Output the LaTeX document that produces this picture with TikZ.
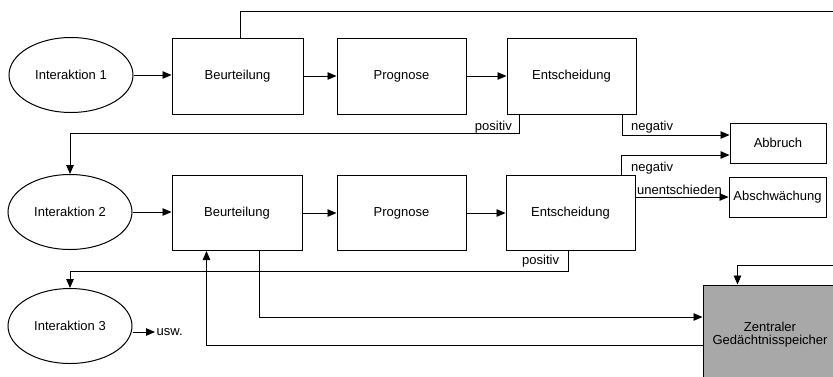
\documentclass[tikz,border=0pt]{standalone}
\usepackage{fontspec}
\setmainfont{Liberation Sans}
\usetikzlibrary{arrows.meta,calc,shapes.geometric}
\definecolor{zgray}{RGB}{168,168,168}
\begin{document}
\begin{tikzpicture}[x=1pt,y=-1pt,
  font=\fontsize{13}{15}\selectfont,
  box/.style={draw, line width=1pt, rectangle, inner sep=0pt, align=center},
  ell/.style={draw, line width=1pt, ellipse, inner sep=0pt, minimum width=124, minimum height=75},
  conn/.style={line width=0.9pt, -{Triangle[length=9pt,width=7.5pt]}},
  plainline/.style={line width=0.9pt},
  lbl/.style={inner sep=0pt}]
\useasboundingbox (0,0) rectangle (833,376);
\clip (0,0) rectangle (833,376);

% row 1
\node[ell] (i1) at (71,75) {Interaktion 1};
\node[box, minimum width=131, minimum height=76] (b1) at (237.5,76) {Beurteilung};
\node[box, minimum width=129, minimum height=76] (p1) at (401.5,76) {Prognose};
\node[box, minimum width=129, minimum height=76] (e1) at (571.5,76) {Entscheidung};

% row 2
\node[ell] (i2) at (70,212) {Interaktion 2};
\node[box, minimum width=130, minimum height=75] (b2) at (237,213) {Beurteilung};
\node[box, minimum width=129, minimum height=75] (p2) at (401.5,213) {Prognose};
\node[box, minimum width=129, minimum height=75] (e2) at (570.5,213) {Entscheidung};

% right boxes
\node[box, minimum width=96, minimum height=40] (ab) at (778,143) {Abbruch};
\node[box, minimum width=97, minimum height=40] (as) at (777.5,197) {Abschwächung};

% row 3
\node[ell] (i3) at (70,326) {Interaktion 3};
\node[inner sep=1.5pt, anchor=west] (usw) at (155,332) {usw.};

% memory
\node[box, fill=zgray, minimum width=134, minimum height=100] (z) at (770,335) {Zentraler\\[-2pt]Gedächtnisspeicher};

\coordinate (topR) at (833,11);
\coordinate (midR) at (833,265);

% connectors row 1
\draw[conn] (i1.east) -- (i1.east -| b1.west);
\draw[conn] (b1) -- (p1);
\draw[conn] (p1) -- (e1);
\draw[conn] ($(e1.south west)+(13,0)$) -- ++(0,19) -| (i2.north);
\draw[conn] ($(e1.south east)+(-14,0)$) |- ($(ab.west)+(0,-8)$);
\draw[plainline] ($(b1.north west)+(69,0)$) |- (topR);

% connectors row 2
\draw[conn] (i2.east) -- (i2.east -| b2.west);
\draw[conn] (b2) -- (p2);
\draw[conn] (p2) -- (e2);
\draw[conn] ($(e2.north east)+(-14,0)$) |- ($(ab.west)+(0,12)$);
\draw[conn] (e2.east |- as.west) -- (as.west);
\draw[conn] ($(e2.south west)+(63,0)$) -- ++(0,20) -| (i3.north);
\draw[conn] ($(b2.south west)+(88,0)$) |- ($(z.west)+(0,-18)$);
\draw[conn] ($(z.west)+(0,10)$) -| ($(b2.south west)+(35,0)$);
\draw[conn] (midR) -| ($(z.north west)+(35,0)$);

% row 3
\draw[conn] ($(i3.east)+(0,6)$) -- (usw.west);

% labels
\node[lbl, anchor=base east] (lp1) at (512,130) {positiv};
\node[lbl, anchor=base west] (ln1) at (631,130) {negativ};
\node[lbl, anchor=base west] (ln2) at (631,171) {negativ};
\node[lbl, anchor=base west] (lu) at (637,194) {unentschieden};
\node[lbl, anchor=base west] (lp2) at (522,264) {positiv};
\end{tikzpicture}
\end{document}
